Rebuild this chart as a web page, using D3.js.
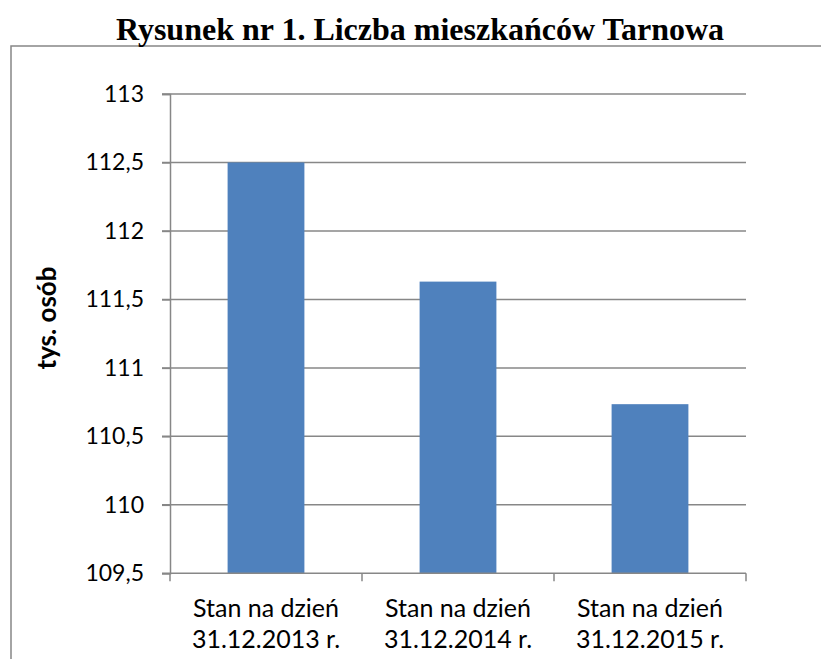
<!DOCTYPE html>
<html>
<head>
<meta charset="utf-8">
<script src="https://cdn.jsdelivr.net/npm/d3@7"></script>
<style>
  body { margin: 0; background: #fff; }
</style>
</head>
<body>
<div id="main"></div>
<script>
// dane
const categoriesTop = ['Stan na dzień', 'Stan na dzień', 'Stan na dzień'];
const categoriesBottom = ['31.12.2013 r.', '31.12.2014 r.', '31.12.2015 r.'];
const values = [112.5, 111.63, 110.735];
const yTicks = [109.5, 110, 110.5, 111, 111.5, 112, 112.5, 113];
const title = 'Rysunek nr 1. Liczba mieszkańców Tarnowa';
const yLabel = 'tys. osób';

const width = 821, height = 659;
const mLeft = 170, mRight = 746, mTop = 94, mBottom = 573.3;
const gray = '#878787';

const svg = d3.select('#main')
  .append('svg')
  .attr('width', width)
  .attr('height', height);

// ramka obszaru wykresu
svg.append('rect')
  .attr('x', 11)
  .attr('y', 46)
  .attr('width', 900)
  .attr('height', 800)
  .attr('fill', 'none')
  .attr('stroke', gray)
  .attr('stroke-width', 1.5);

svg.append('text')
  .attr('x', 420)
  .attr('y', 40)
  .attr('text-anchor', 'middle')
  .style('font-family', '"Liberation Serif", "Times New Roman", serif')
  .style('font-weight', 'bold')
  .style('font-size', '32px')
  .text(title);

const cats = categoriesBottom;
const xScale = d3.scaleBand()
  .domain(cats)
  .range([mLeft, mRight])
  .paddingInner(0.6)
  .paddingOuter(0.3);

const yScale = d3.scaleLinear()
  .domain([109.5, 113])
  .range([mBottom, mTop]);

// linie siatki
svg.append('g')
  .selectAll('line')
  .data(yTicks.slice(1))
  .join('line')
    .attr('x1', mLeft - 8)
    .attr('x2', mRight)
    .attr('y1', d => yScale(d))
    .attr('y2', d => yScale(d))
    .attr('stroke', gray)
    .attr('stroke-width', 1.5);

svg.selectAll('rect.bar')
  .data(values)
  .join('rect')
    .attr('class', 'bar')
    .attr('x', (d, i) => xScale(cats[i]))
    .attr('y', d => yScale(d))
    .attr('width', xScale.bandwidth())
    .attr('height', d => mBottom - yScale(d))
    .attr('fill', '#4f81bd');

const yAxis = d3.axisLeft(yScale)
  .tickValues(yTicks)
  .tickSize(8)
  .tickPadding(18)
  .tickFormat(d => String(d).replace('.', ','));

const gy = svg.append('g')
  .attr('transform', `translate(${mLeft},0)`)
  .call(yAxis);
gy.select('.domain').attr('stroke', gray).attr('stroke-width', 1.5);
gy.selectAll('.tick line').attr('stroke', gray).attr('stroke-width', 1.5);
gy.selectAll('.tick text')
  .attr('fill', '#000')
  .style('font-family', 'Lato, sans-serif')
  .style('font-size', '23px');

// oś x: podziałki na granicach kategorii
const xAxisG = svg.append('g');
xAxisG.append('line')
  .attr('x1', mLeft - 8).attr('x2', mRight)
  .attr('y1', mBottom).attr('y2', mBottom)
  .attr('stroke', gray).attr('stroke-width', 1.5);
const edges = d3.range(cats.length + 1).map(i => mLeft + i * xScale.step());
xAxisG.selectAll('line.tk')
  .data(edges)
  .join('line')
    .attr('class', 'tk')
    .attr('x1', d => d).attr('x2', d => d)
    .attr('y1', mBottom).attr('y2', mBottom + 8)
    .attr('stroke', gray).attr('stroke-width', 1.5);

const labels = xAxisG.selectAll('text.cat')
  .data(cats)
  .join('text')
    .attr('class', 'cat')
    .attr('text-anchor', 'middle')
    .style('font-family', 'Lato, sans-serif')
    .style('font-size', '25px');
labels.append('tspan')
  .attr('x', d => xScale(d) + xScale.bandwidth() / 2)
  .attr('y', 617)
  .text((d, i) => categoriesTop[i]);
labels.append('tspan')
  .attr('x', d => xScale(d) + xScale.bandwidth() / 2)
  .attr('y', 648)
  .text(d => d);

svg.append('text')
  .attr('transform', 'translate(56,318) rotate(-90)')
  .attr('text-anchor', 'middle')
  .style('font-family', 'Lato, sans-serif')
  .style('font-weight', 'bold')
  .style('font-size', '26px')
  .text(yLabel);
</script>
</body>
</html>
